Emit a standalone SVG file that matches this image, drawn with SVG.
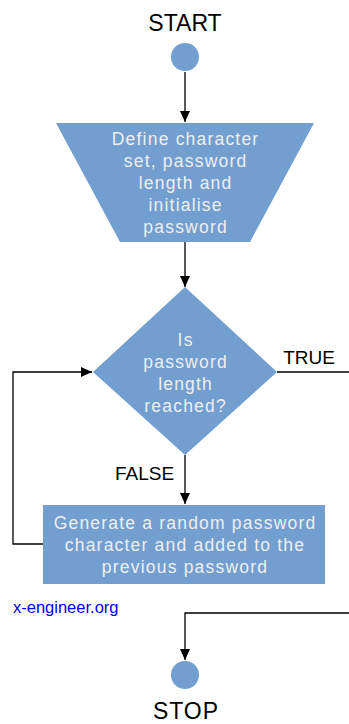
<svg xmlns="http://www.w3.org/2000/svg" width="349" height="724" viewBox="0 0 349 724">
<defs>
<style>
.shape{fill:#729fcf;stroke:none}
.wt{fill:#eeeeee;font-family:"Liberation Sans",Arial,sans-serif;font-size:17.5px;letter-spacing:1.2px;text-anchor:middle}
.bt{fill:#000000;font-family:"Liberation Sans",Arial,sans-serif;text-anchor:middle}
.ln{fill:none;stroke:#000000;stroke-width:1.3}
</style>
<marker id="ah" markerWidth="12" markerHeight="12" refX="11" refY="6" orient="auto" markerUnits="userSpaceOnUse">
<path d="M0,1 L11,6 L0,11 Z" fill="#000"/>
</marker>
</defs>
<rect width="349" height="724" fill="#ffffff"/>
<g id="connectors">
<path class="ln" d="M185,72 V122" marker-end="url(#ah)"/>
<path class="ln" d="M185,242 V287" marker-end="url(#ah)"/>
<path class="ln" d="M185,455 V504" marker-end="url(#ah)"/>
<path class="ln" d="M43,544 H13 V372 H92" marker-end="url(#ah)"/>
<path class="ln" d="M277,372 H349"/>
<path class="ln" d="M349,613 H185 V660" marker-end="url(#ah)"/>
<text class="bt" x="309" y="364" font-size="19">TRUE</text>
<text class="bt" x="144.5" y="480" font-size="19">FALSE</text>
</g>
<g id="start">
<text class="bt" x="185" y="31" font-size="23">START</text>
<circle class="shape" cx="185" cy="57" r="14"/>
</g>
<g id="define">
<path class="shape" d="M56,123 H314 L250,242 H120 Z"/>
<text class="wt" x="185.6" y="145">Define character</text>
<text class="wt" x="185.6" y="167">set, password</text>
<text class="wt" x="185.6" y="189">length and</text>
<text class="wt" x="185.6" y="211">initialise</text>
<text class="wt" x="185.6" y="233">password</text>
</g>
<g id="decision">
<path class="shape" d="M185,287 L277,372 L185,455 L93,372 Z"/>
<text class="wt" x="185.6" y="346">Is</text>
<text class="wt" x="185.6" y="368">password</text>
<text class="wt" x="185.6" y="390">length</text>
<text class="wt" x="185.6" y="412">reached?</text>
</g>
<g id="generate">
<rect class="shape" x="43" y="505" width="282" height="79"/>
<text class="wt" x="185" y="529">Generate a random password</text>
<text class="wt" x="185" y="551">character and added to the</text>
<text class="wt" x="185" y="573">previous password</text>
</g>
<text x="13" y="613" fill="#0000ff" font-family="'Liberation Sans',Arial,sans-serif" font-size="16.5">x-engineer.org</text>
<g id="stop">
<circle class="shape" cx="185" cy="675" r="14"/>
<text class="bt" x="186" y="719" font-size="23" letter-spacing="1">STOP</text>
</g>
</svg>
